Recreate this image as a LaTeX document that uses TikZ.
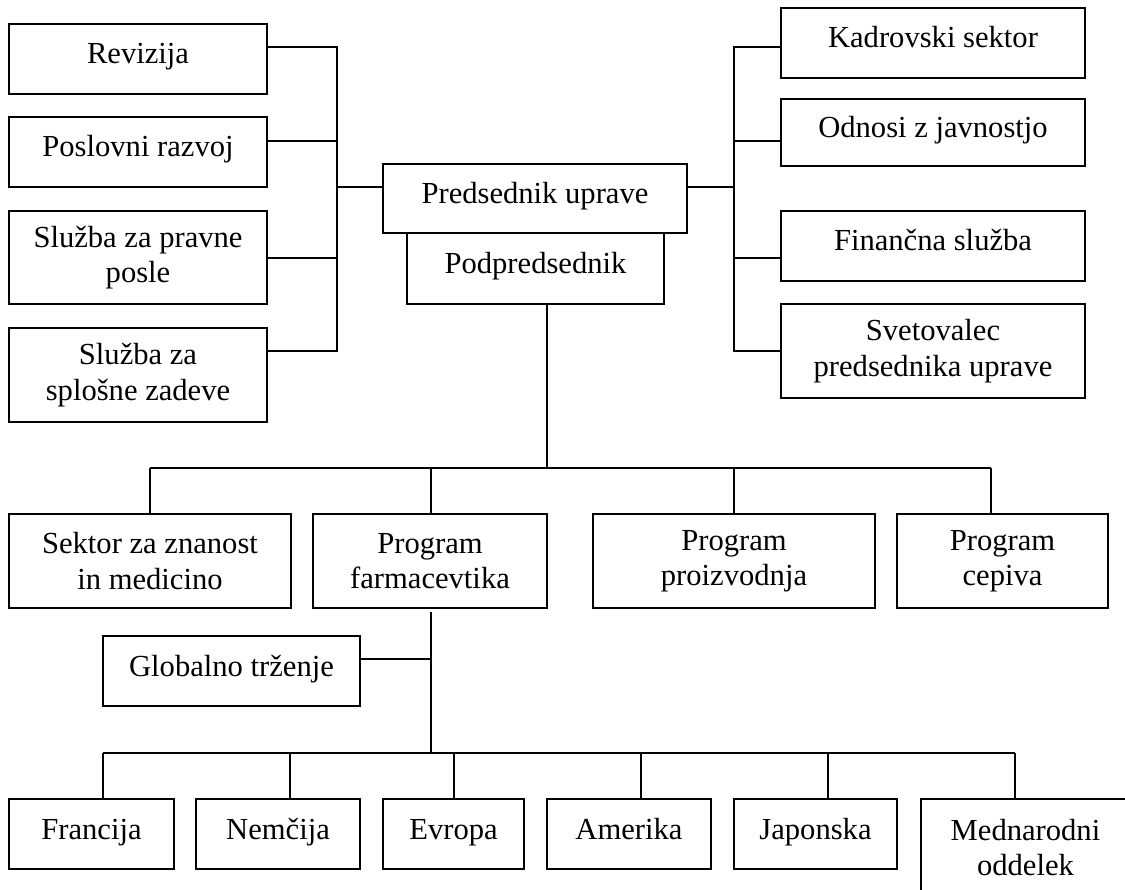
\documentclass[tikz,border=0pt]{standalone}
\usepackage{fontspec}
\setmainfont{Liberation Serif}
\begin{document}
\begin{tikzpicture}[x=1pt,y=-1pt,
  box/.style={draw, line width=1.8pt, inner sep=0pt, align=center,
    font=\fontsize{30.6}{35.5}\selectfont},
  one/.style={box, text height=20pt, text depth=10pt},
  link/.style={line width=1.8pt}]
\useasboundingbox (0,0) rectangle (1125,890);
\clip (0,0) rectangle (1125,890);
\fill[white] (0,0) rectangle (1125,890);
% left column
\node[one, minimum width=258pt, minimum height=70pt] (rev) at (138,59) {Revizija};
\node[one, minimum width=258pt, minimum height=70pt] (pos) at (138,152) {Poslovni razvoj};
\node[box, minimum width=258pt, minimum height=93pt] (prav) at (138,257.5) {Služba za pravne\\posle};
\node[box, minimum width=258pt, minimum height=94pt] (splo) at (138,375) {Služba za\\splošne zadeve};
% centre
\node[one, minimum width=304pt, minimum height=69pt] (pred) at (535,198.5) {Predsednik uprave};
\node[one, minimum width=257pt, minimum height=71pt] (podp) at (535.5,268.5) {Podpredsednik};
% right column
\node[one, minimum width=304pt, minimum height=70pt] (kad) at (933,43) {Kadrovski sektor};
\node[one, minimum width=304pt, minimum height=67pt] (odn) at (933,132.5) {Odnosi z javnostjo};
\node[one, minimum width=304pt, minimum height=70pt] (fin) at (933,246) {Finančna služba};
\node[box, minimum width=304pt, minimum height=94pt] (svet) at (933,351) {Svetovalec\\predsednika uprave};
% middle row
\node[box, minimum width=282pt, minimum height=94pt] (sek) at (150,561) {Sektor za znanost\\in medicino};
\node[box, minimum width=234pt, minimum height=94pt] (farm) at (430,561) {Program\\farmacevtika};
\node[box, minimum width=282pt, minimum height=94pt] (proi) at (734,561) {Program\\proizvodnja};
\node[box, minimum width=211pt, minimum height=94pt] (cep) at (1002.5,561) {Program\\cepiva};
\node[one, minimum width=257pt, minimum height=70pt] (glob) at (231.5,671) {Globalno trženje};
% bottom row
\node[one, minimum width=165pt, minimum height=70pt] (fra) at (91.5,834) {Francija};
\node[one, minimum width=164pt, minimum height=70pt] (nem) at (278,834) {Nemčija};
\node[one, minimum width=141pt, minimum height=70pt] (evr) at (453.5,834) {Evropa};
\node[one, minimum width=164pt, minimum height=70pt] (ame) at (629,834) {Amerika};
\node[one, minimum width=163pt, minimum height=70pt] (jap) at (815.5,834) {Japonska};
\node[box, minimum width=209pt, minimum height=97pt] (med) at (1025.5,847.5) {Mednarodni\\oddelek};
% junction coordinates
\coordinate (l0) at (337,187);
\coordinate (l1) at (337,47);
\coordinate (l2) at (337,141);
\coordinate (l3) at (337,258);
\coordinate (l4) at (337,351);
\coordinate (r0) at (734,187);
\coordinate (r1) at (734,47);
\coordinate (r2) at (734,141);
\coordinate (r3) at (734,258);
\coordinate (r4) at (734,351);
\coordinate (mj) at (547,468);
\coordinate (m1) at (150,468);
\coordinate (m2) at (431,468);
\coordinate (m3) at (734,468);
\coordinate (m4) at (991,468);
\coordinate (fb) at (431,612);
\coordinate (gj) at (431,659);
\coordinate (bj) at (431,753);
\coordinate (b1) at (103,753);
\coordinate (b2) at (290,753);
\coordinate (b3) at (454,753);
\coordinate (b4) at (641,753);
\coordinate (b5) at (828,753);
\coordinate (b6) at (1015,753);
% left connectors
\draw[link] (rev.east |- l1) -- (l1) -- (l4) -- (splo.east |- l4);
\draw[link] (pos.east |- l2) -- (l2);
\draw[link] (prav.east |- l3) -- (l3);
\draw[link] (l0) -- (pred.west |- l0);
% right connectors
\draw[link] (kad.west |- r1) -- (r1) -- (r4) -- (svet.west |- r4);
\draw[link] (odn.west |- r2) -- (r2);
\draw[link] (fin.west |- r3) -- (r3);
\draw[link] (pred.east |- r0) -- (r0);
% middle
\draw[link] (podp.south -| mj) -- (mj);
\draw[link] (m1) -- (m4);
\draw[link] (m1) -- (sek.north -| m1);
\draw[link] (m2) -- (farm.north -| m2);
\draw[link] (m3) -- (proi.north -| m3);
\draw[link] (m4) -- (cep.north -| m4);
% below farmacevtika
\draw[link] (fb) -- (bj);
\draw[link] (glob.east |- gj) -- (gj);
% bottom
\draw[link] (b1) -- (b6);
\draw[link] (b1) -- (fra.north -| b1);
\draw[link] (b2) -- (nem.north -| b2);
\draw[link] (b3) -- (evr.north -| b3);
\draw[link] (b4) -- (ame.north -| b4);
\draw[link] (b5) -- (jap.north -| b5);
\draw[link] (b6) -- (med.north -| b6);
\end{tikzpicture}
\end{document}
